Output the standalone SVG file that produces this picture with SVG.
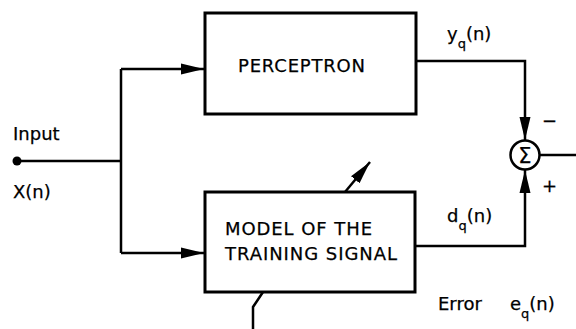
<svg xmlns="http://www.w3.org/2000/svg" width="576" height="329" viewBox="0 0 576 329">
<defs>
<style>
.box{fill:#fff;stroke:#000;stroke-width:3}
.ln{fill:none;stroke:#000;stroke-width:2.5;stroke-linejoin:miter}
text{font-family:"DejaVu Sans","Liberation Sans",sans-serif;font-size:18px;fill:#000;stroke:#000;stroke-width:0.25}
.sub{font-size:13px}
</style>
<marker id="ah" markerUnits="userSpaceOnUse" markerWidth="24" markerHeight="13" refX="23" refY="6.5" orient="auto">
<path d="M0,1 L23,6.5 L0,12 Z" fill="#000"/>
</marker>
</defs>
<g id="connectors">
<circle cx="17" cy="161" r="4.5" fill="#000"/>
<path class="ln" d="M17,161 H121 M121,69 V253"/>
<path class="ln" d="M121,69 H204" marker-end="url(#ah)"/>
<path class="ln" d="M121,253 H204" marker-end="url(#ah)"/>
<path class="ln" d="M416,61 H525 V140" marker-end="url(#ah)"/>
<path class="ln" d="M415,246 H525 V170" marker-end="url(#ah)"/>
<path class="ln" d="M540,155 H576"/>
<path class="ln" d="M345,192 L370,162" marker-end="url(#ah)"/>
<path class="ln" d="M263,292 L253,307 V329"/>
</g>
<g id="perceptron">
<rect class="box" x="205" y="13" width="211" height="101"/>
<text x="238" y="72" textLength="127">PERCEPTRON</text>
</g>
<g id="model">
<rect class="box" x="205" y="192" width="210" height="100"/>
<text x="225" y="235" textLength="147">MODEL OF THE</text>
<text x="225" y="260" textLength="172">TRAINING SIGNAL</text>
</g>
<g id="sum">
<circle cx="525" cy="155" r="14.5" fill="#fff" stroke="#000" stroke-width="2.5"/>
<text x="525" y="162.5" text-anchor="middle" style="font-size:21px">Σ</text>
</g>
<g id="labels">
<text x="13" y="140">Input</text>
<text x="13" y="198">X(n)</text>
<text x="447" y="40">y<tspan class="sub" dy="8">q</tspan><tspan dy="-8">(n)</tspan></text>
<text x="447" y="222">d<tspan class="sub" dy="8">q</tspan><tspan dy="-8">(n)</tspan></text>
<text x="542" y="127">−</text>
<text x="542" y="192">+</text>
<text x="438" y="310">Error</text>
<text x="510" y="310">e<tspan class="sub" dy="8">q</tspan><tspan dy="-8">(n)</tspan></text>
</g>
</svg>
